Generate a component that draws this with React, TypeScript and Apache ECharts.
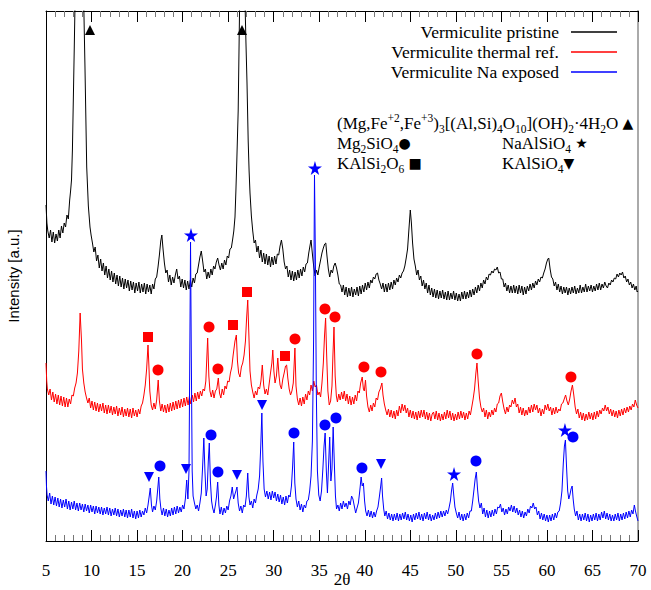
import React, { useEffect, useRef } from 'react';
import * as echarts from 'echarts';

// 2θ (deg) vs intensity (a.u.)
const pristine: [number, number][] = [
[5.0,336],[5.1,318],[5.2,310],[5.35,303],[5.5,311],[5.65,299],[5.8,309],[5.95,298],[6.1,307],[6.25,300],[6.4,311],[6.55,303],[6.7,315],[6.85,308],[7.0,318],[7.15,314],[7.3,326],[7.45,322],[7.6,341],[7.7,350],[7.8,361],[7.9,391],[8.0,441],[8.1,491],[8.2,545],[8.4,650],[8.7,750],[9.0,650],[9.15,535],[9.28,474],[9.47,374],[9.65,335],[9.83,314],[9.95,306],[10.1,298],[10.25,289],[10.4,294],[10.55,280],[10.7,286],[10.85,273],[11.0,282],[11.15,270],[11.3,278],[11.45,266],[11.6,275],[11.75,263],[11.9,272],[12.05,261],[12.2,270],[12.35,259],[12.5,268],[12.65,257],[12.8,266],[12.95,255],[13.1,265],[13.25,254],[13.4,263],[13.55,252],[13.7,262],[13.85,253],[14.0,261],[14.15,250],[14.3,260],[14.45,251],[14.6,259],[14.75,248],[14.9,258],[15.05,250],[15.2,259],[15.35,248],[15.5,257],[15.65,249],[15.8,258],[15.95,247],[16.1,257],[16.25,249],[16.4,256],[16.55,247],[16.7,257],[16.85,252],[17.0,262],[17.15,264],[17.3,274],[17.45,286],[17.6,300],[17.72,306],[17.85,292],[18.0,278],[18.15,268],[18.3,271],[18.45,259],[18.6,266],[18.75,256],[18.9,264],[19.05,258],[19.2,266],[19.35,272],[19.5,262],[19.65,265],[19.8,254],[19.95,262],[20.1,253],[20.25,261],[20.4,251],[20.55,260],[20.7,252],[20.85,261],[21.0,254],[21.15,263],[21.3,258],[21.45,267],[21.6,268],[21.75,276],[21.9,284],[22.05,290],[22.2,280],[22.35,269],[22.5,272],[22.65,262],[22.8,269],[22.95,263],[23.1,272],[23.25,266],[23.4,275],[23.55,272],[23.7,279],[23.85,283],[24.0,276],[24.15,271],[24.3,278],[24.45,272],[24.6,281],[24.75,276],[24.9,285],[25.05,283],[25.2,292],[25.35,293],[25.5,302],[25.62,310],[25.75,324],[25.85,350],[25.95,380],[26.1,430],[26.25,530],[26.4,650],[26.55,760],[26.7,650],[26.85,540],[26.95,500],[27.07,458],[27.2,400],[27.3,370],[27.4,348],[27.55,325],[27.7,310],[27.85,298],[28.0,301],[28.15,289],[28.3,295],[28.45,283],[28.6,291],[28.75,279],[28.9,288],[29.05,277],[29.2,287],[29.35,276],[29.5,285],[29.65,274],[29.8,284],[29.95,276],[30.1,285],[30.25,277],[30.4,287],[30.55,286],[30.7,295],[30.85,301],[31.0,292],[31.15,279],[31.3,272],[31.45,275],[31.6,264],[31.75,271],[31.9,261],[32.05,270],[32.2,260],[32.35,269],[32.5,261],[32.65,271],[32.8,263],[32.95,272],[33.1,265],[33.25,274],[33.4,269],[33.55,277],[33.7,278],[33.85,288],[34.0,296],[34.1,301],[34.25,287],[34.4,274],[34.55,265],[34.7,271],[34.85,266],[35.0,274],[35.15,281],[35.3,288],[35.45,293],[35.6,297],[35.72,298],[35.85,285],[36.0,272],[36.15,264],[36.3,271],[36.45,268],[36.6,275],[36.75,278],[36.9,273],[37.05,266],[37.2,257],[37.35,256],[37.5,249],[37.65,256],[37.8,246],[37.95,254],[38.1,244],[38.25,253],[38.4,245],[38.55,254],[38.7,244],[38.85,252],[39.0,246],[39.15,254],[39.3,245],[39.45,255],[39.6,247],[39.75,256],[39.9,249],[40.05,258],[40.2,251],[40.35,259],[40.5,253],[40.65,261],[40.8,258],[40.95,264],[41.1,262],[41.25,267],[41.4,268],[41.55,261],[41.7,257],[41.85,252],[42.0,258],[42.15,249],[42.3,257],[42.45,249],[42.6,258],[42.75,251],[42.9,259],[43.05,252],[43.2,261],[43.35,256],[43.5,263],[43.65,259],[43.8,266],[43.95,263],[44.1,268],[44.25,270],[44.4,275],[44.55,283],[44.7,292],[44.85,312],[45.0,331],[45.12,318],[45.25,298],[45.4,282],[45.55,275],[45.7,266],[45.85,271],[46.0,261],[46.15,265],[46.3,255],[46.45,261],[46.6,252],[46.75,258],[46.9,248],[47.05,256],[47.2,246],[47.35,253],[47.5,244],[47.65,252],[47.8,243],[47.95,251],[48.1,242],[48.25,250],[48.4,243],[48.55,251],[48.7,242],[48.85,249],[49.0,241],[49.15,250],[49.3,241],[49.45,248],[49.6,242],[49.75,250],[49.9,241],[50.05,248],[50.2,240],[50.35,247],[50.5,240],[50.65,249],[50.8,242],[50.95,250],[51.1,242],[51.25,249],[51.4,243],[51.55,251],[51.7,244],[51.85,252],[52.0,246],[52.15,254],[52.3,248],[52.45,256],[52.6,250],[52.75,258],[52.9,253],[53.05,261],[53.2,257],[53.35,264],[53.5,261],[53.65,267],[53.8,266],[53.95,270],[54.1,268],[54.25,272],[54.4,271],[54.55,274],[54.7,268],[54.85,269],[55.0,262],[55.15,262],[55.3,254],[55.45,258],[55.6,250],[55.75,256],[55.9,248],[56.05,255],[56.2,248],[56.35,256],[56.5,248],[56.65,255],[56.8,247],[56.95,256],[57.1,248],[57.25,255],[57.4,246],[57.55,254],[57.7,247],[57.85,255],[58.0,250],[58.15,257],[58.3,251],[58.45,258],[58.6,253],[58.75,260],[58.9,256],[59.05,262],[59.2,259],[59.35,264],[59.5,263],[59.65,268],[59.8,272],[59.95,278],[60.1,282],[60.2,283],[60.35,272],[60.5,264],[60.65,262],[60.8,255],[60.95,259],[61.1,251],[61.25,257],[61.4,249],[61.55,255],[61.7,247],[61.85,254],[62.0,248],[62.15,254],[62.3,246],[62.45,253],[62.6,247],[62.75,254],[62.9,248],[63.05,255],[63.2,247],[63.35,253],[63.5,248],[63.65,256],[63.8,248],[63.95,254],[64.1,249],[64.25,257],[64.4,249],[64.55,255],[64.7,250],[64.85,256],[65.0,249],[65.15,255],[65.3,250],[65.45,257],[65.6,251],[65.75,258],[65.9,251],[66.05,257],[66.2,253],[66.35,259],[66.5,255],[66.65,253],[66.8,258],[66.95,256],[67.1,261],[67.25,259],[67.4,263],[67.55,262],[67.7,267],[67.85,264],[68.0,268],[68.15,266],[68.3,269],[68.45,263],[68.6,265],[68.75,259],[68.9,262],[69.05,256],[69.2,259],[69.35,253],[69.5,257],[69.65,251],[69.8,255],[69.9,249],[70.0,250],
];

const thermal: [number, number][] = [
[5.0,178],[5.08,160],[5.15,152],[5.3,146],[5.45,152],[5.6,141],[5.75,149],[5.9,139],[6.05,147],[6.2,137],[6.35,146],[6.5,136],[6.65,145],[6.8,135],[6.95,144],[7.1,134],[7.25,143],[7.4,134],[7.55,142],[7.7,137],[7.85,146],[8.0,145],[8.15,153],[8.3,158],[8.45,168],[8.6,190],[8.75,228],[8.9,200],[9.0,172],[9.15,158],[9.3,149],[9.45,143],[9.6,138],[9.75,143],[9.9,133],[10.05,140],[10.2,131],[10.35,139],[10.5,130],[10.65,138],[10.8,129],[10.95,137],[11.1,130],[11.25,138],[11.4,128],[11.55,136],[11.7,127],[11.85,136],[12.0,128],[12.15,135],[12.3,126],[12.45,134],[12.6,127],[12.75,135],[12.9,125],[13.05,133],[13.2,126],[13.35,134],[13.5,124],[13.65,132],[13.8,125],[13.95,133],[14.1,124],[14.25,132],[14.4,123],[14.55,133],[14.7,125],[14.85,131],[15.0,124],[15.15,132],[15.3,127],[15.45,135],[15.6,138],[15.75,146],[15.9,156],[16.05,172],[16.2,196],[16.3,175],[16.4,150],[16.55,136],[16.7,131],[16.85,138],[17.0,132],[17.15,141],[17.32,161],[17.45,140],[17.6,130],[17.75,137],[17.9,129],[18.05,136],[18.2,128],[18.35,137],[18.5,129],[18.65,138],[18.8,130],[18.95,139],[19.1,131],[19.25,140],[19.4,132],[19.55,141],[19.7,133],[19.85,142],[20.0,134],[20.15,143],[20.3,135],[20.45,144],[20.6,136],[20.75,145],[20.9,137],[21.05,146],[21.2,139],[21.35,148],[21.5,140],[21.65,149],[21.8,142],[21.95,150],[22.1,145],[22.25,152],[22.4,150],[22.55,160],[22.75,203],[22.88,165],[23.0,150],[23.15,144],[23.3,151],[23.45,143],[23.6,150],[23.75,152],[23.92,163],[24.05,148],[24.2,143],[24.35,152],[24.5,146],[24.65,155],[24.8,152],[24.95,160],[25.1,159],[25.25,168],[25.4,174],[25.55,186],[25.75,200],[25.9,206],[26.02,180],[26.15,168],[26.3,164],[26.45,174],[26.6,178],[26.75,186],[26.9,200],[27.02,222],[27.15,241],[27.28,205],[27.4,170],[27.55,156],[27.7,149],[27.85,143],[28.0,150],[28.15,146],[28.3,154],[28.45,152],[28.6,160],[28.75,176],[28.9,156],[29.05,147],[29.2,152],[29.35,146],[29.5,157],[29.65,168],[29.8,178],[29.9,191],[30.02,170],[30.15,158],[30.3,165],[30.45,183],[30.58,166],[30.7,156],[30.85,152],[31.0,162],[31.15,168],[31.3,175],[31.42,176],[31.55,163],[31.7,152],[31.85,146],[32.0,150],[32.15,158],[32.33,193],[32.45,155],[32.6,142],[32.75,136],[32.9,143],[33.05,135],[33.2,144],[33.35,137],[33.5,147],[33.65,141],[33.8,150],[33.95,146],[34.1,156],[34.25,150],[34.4,160],[34.55,154],[34.7,156],[34.85,146],[35.0,149],[35.15,144],[35.3,158],[35.45,178],[35.58,205],[35.7,223],[35.82,185],[35.95,150],[36.1,136],[36.25,140],[36.4,155],[36.5,185],[36.62,214],[36.75,165],[36.88,145],[37.0,139],[37.15,147],[37.3,141],[37.45,149],[37.6,142],[37.75,150],[37.9,140],[38.05,147],[38.2,137],[38.35,145],[38.5,136],[38.65,144],[38.8,137],[38.95,146],[39.1,140],[39.25,150],[39.4,148],[39.55,158],[39.72,164],[39.85,152],[39.95,150],[40.08,161],[40.2,145],[40.35,134],[40.5,129],[40.65,136],[40.8,130],[40.95,138],[41.1,134],[41.25,143],[41.4,141],[41.55,149],[41.7,152],[41.88,158],[42.0,146],[42.15,137],[42.3,131],[42.45,126],[42.6,132],[42.75,124],[42.9,131],[43.05,123],[43.2,130],[43.35,122],[43.5,131],[43.65,125],[43.8,135],[43.95,128],[44.1,137],[44.25,130],[44.4,136],[44.55,128],[44.7,133],[44.85,124],[45.0,131],[45.15,123],[45.3,130],[45.45,122],[45.6,129],[45.75,121],[45.9,130],[46.05,123],[46.2,131],[46.35,124],[46.5,131],[46.65,122],[46.8,129],[46.95,121],[47.1,128],[47.25,120],[47.4,127],[47.55,129],[47.7,122],[47.85,130],[48.0,121],[48.15,128],[48.3,120],[48.45,127],[48.6,121],[48.75,129],[48.9,122],[49.05,131],[49.2,123],[49.35,130],[49.5,121],[49.65,128],[49.8,120],[49.95,127],[50.1,121],[50.25,129],[50.4,122],[50.55,130],[50.7,123],[50.85,129],[51.0,121],[51.15,128],[51.3,122],[51.45,130],[51.6,126],[51.75,134],[51.9,142],[52.05,152],[52.2,168],[52.32,178],[52.45,160],[52.6,143],[52.75,134],[52.9,129],[53.05,133],[53.2,124],[53.35,131],[53.5,122],[53.65,129],[53.8,124],[53.95,131],[54.1,126],[54.25,133],[54.4,129],[54.55,137],[54.7,138],[54.85,145],[55.0,148],[55.15,139],[55.3,132],[55.45,127],[55.6,134],[55.75,129],[55.9,136],[56.05,134],[56.2,141],[56.35,137],[56.5,143],[56.65,134],[56.8,137],[56.95,128],[57.1,134],[57.25,126],[57.4,133],[57.55,125],[57.7,131],[57.85,126],[58.0,134],[58.15,128],[58.3,136],[58.45,129],[58.6,137],[58.75,131],[58.9,136],[59.05,128],[59.2,133],[59.35,125],[59.5,132],[59.65,127],[59.8,136],[59.95,131],[60.1,137],[60.25,130],[60.4,134],[60.55,126],[60.7,133],[60.85,127],[61.0,134],[61.15,128],[61.3,132],[61.45,130],[61.6,137],[61.75,138],[61.9,142],[62.05,146],[62.2,140],[62.35,136],[62.5,142],[62.65,150],[62.8,156],[62.95,146],[63.1,134],[63.25,127],[63.4,132],[63.55,123],[63.7,129],[63.85,121],[64.0,128],[64.15,120],[64.3,127],[64.45,121],[64.6,129],[64.75,122],[64.9,128],[65.05,121],[65.2,129],[65.35,122],[65.5,130],[65.65,124],[65.8,131],[65.95,127],[66.1,133],[66.25,130],[66.4,136],[66.55,130],[66.7,134],[66.85,127],[67.0,132],[67.15,125],[67.3,131],[67.45,124],[67.6,130],[67.75,123],[67.9,131],[68.05,125],[68.2,132],[68.35,126],[68.5,133],[68.65,128],[68.8,134],[68.95,129],[69.1,135],[69.25,131],[69.4,137],[69.55,134],[69.7,141],[69.85,136],[70.0,133],
];

const naExposed: [number, number][] = [
[5.0,70],[5.05,55],[5.12,46],[5.25,40],[5.4,48],[5.55,37],[5.7,45],[5.85,36],[6.0,44],[6.15,35],[6.3,43],[6.45,34],[6.6,42],[6.75,33],[6.9,41],[7.05,34],[7.2,42],[7.35,32],[7.5,40],[7.65,31],[7.8,39],[7.95,32],[8.1,40],[8.25,31],[8.4,38],[8.55,30],[8.7,38],[8.85,31],[9.0,37],[9.15,29],[9.3,37],[9.45,30],[9.6,36],[9.75,28],[9.9,36],[10.05,29],[10.2,35],[10.35,27],[10.5,35],[10.65,28],[10.8,34],[10.95,27],[11.1,34],[11.25,26],[11.4,33],[11.55,27],[11.7,34],[11.85,26],[12.0,33],[12.15,25],[12.3,32],[12.45,26],[12.6,33],[12.75,25],[12.9,32],[13.05,24],[13.2,31],[13.35,25],[13.5,32],[13.65,24],[13.8,31],[13.95,23],[14.1,31],[14.25,24],[14.4,32],[14.55,23],[14.7,30],[14.85,22],[15.0,30],[15.15,23],[15.3,31],[15.45,24],[15.6,30],[15.75,26],[15.9,33],[16.05,28],[16.2,36],[16.32,44],[16.45,53],[16.58,36],[16.7,29],[16.85,35],[17.0,31],[17.15,40],[17.25,50],[17.38,64],[17.5,42],[17.62,32],[17.75,26],[17.9,33],[18.05,25],[18.2,32],[18.35,24],[18.5,31],[18.65,25],[18.8,33],[18.95,26],[19.1,34],[19.25,27],[19.4,35],[19.55,28],[19.7,34],[19.85,29],[20.0,36],[20.15,32],[20.3,42],[20.45,61],[20.58,42],[20.7,70],[20.8,200],[20.87,299],[20.95,190],[21.05,70],[21.15,45],[21.3,38],[21.45,32],[21.6,36],[21.75,30],[21.9,38],[22.05,48],[22.2,75],[22.33,103],[22.45,70],[22.58,45],[22.7,52],[22.82,80],[22.93,98],[23.05,60],[23.18,40],[23.3,33],[23.45,28],[23.6,36],[23.72,44],[23.85,59],[23.98,36],[24.1,27],[24.25,34],[24.4,26],[24.55,33],[24.7,28],[24.85,35],[25.0,31],[25.15,40],[25.3,45],[25.45,54],[25.6,42],[25.72,46],[25.85,50],[25.97,54],[26.1,38],[26.25,30],[26.4,35],[26.55,28],[26.7,36],[26.85,34],[27.0,45],[27.15,68],[27.28,44],[27.4,36],[27.55,40],[27.7,33],[27.85,42],[28.0,38],[28.15,46],[28.3,52],[28.45,65],[28.58,95],[28.7,128],[28.82,80],[28.95,52],[29.1,44],[29.25,50],[29.4,42],[29.55,49],[29.7,41],[29.85,50],[30.0,43],[30.15,49],[30.3,40],[30.45,47],[30.6,39],[30.75,46],[30.9,37],[31.05,44],[31.2,36],[31.35,45],[31.5,38],[31.65,46],[31.8,44],[31.95,55],[32.08,75],[32.2,99],[32.32,58],[32.45,42],[32.6,34],[32.75,40],[32.9,31],[33.05,37],[33.2,29],[33.35,36],[33.5,33],[33.65,40],[33.8,41],[33.95,50],[34.1,65],[34.25,100],[34.38,200],[34.48,366],[34.58,280],[34.68,150],[34.8,70],[34.95,46],[35.1,40],[35.25,50],[35.4,72],[35.53,95],[35.65,108],[35.78,70],[35.9,48],[36.02,75],[36.15,104],[36.28,60],[36.4,72],[36.53,114],[36.65,80],[36.78,45],[36.9,32],[37.05,36],[37.2,30],[37.35,38],[37.5,32],[37.65,40],[37.8,34],[37.95,38],[38.1,32],[38.25,40],[38.4,36],[38.55,45],[38.7,42],[38.85,35],[39.0,28],[39.15,33],[39.3,38],[39.45,50],[39.6,64],[39.72,55],[39.85,58],[39.98,40],[40.1,30],[40.25,25],[40.4,31],[40.55,24],[40.7,30],[40.85,23],[41.0,29],[41.15,24],[41.3,30],[41.45,34],[41.6,44],[41.75,55],[41.85,63],[41.95,45],[42.08,32],[42.2,25],[42.35,30],[42.5,22],[42.65,28],[42.8,21],[42.95,27],[43.1,20],[43.25,27],[43.4,21],[43.55,28],[43.7,20],[43.85,27],[44.0,21],[44.15,28],[44.3,22],[44.45,29],[44.6,21],[44.75,27],[44.9,20],[45.05,26],[45.2,19],[45.35,27],[45.5,21],[45.65,28],[45.8,22],[45.95,29],[46.1,21],[46.25,27],[46.4,20],[46.55,28],[46.7,22],[46.85,29],[47.0,21],[47.15,27],[47.3,20],[47.45,26],[47.6,21],[47.75,28],[47.9,22],[48.05,29],[48.2,23],[48.35,30],[48.5,24],[48.65,30],[48.8,25],[48.95,31],[49.1,27],[49.25,33],[49.4,40],[49.52,50],[49.65,58],[49.78,45],[49.9,34],[50.05,28],[50.2,23],[50.35,29],[50.5,21],[50.65,27],[50.8,20],[50.95,27],[51.1,21],[51.25,28],[51.4,23],[51.55,30],[51.7,30],[51.85,40],[52.0,52],[52.12,62],[52.25,69],[52.38,52],[52.5,40],[52.65,33],[52.8,38],[52.95,27],[53.1,33],[53.25,24],[53.4,31],[53.55,23],[53.7,30],[53.85,24],[54.0,31],[54.15,25],[54.3,32],[54.45,27],[54.6,34],[54.75,33],[54.9,37],[55.05,29],[55.2,33],[55.35,26],[55.5,32],[55.65,27],[55.8,34],[55.95,30],[56.1,36],[56.25,29],[56.4,35],[56.55,28],[56.7,33],[56.85,26],[57.0,31],[57.15,24],[57.3,30],[57.45,23],[57.6,29],[57.75,25],[57.9,32],[58.05,28],[58.2,35],[58.35,33],[58.5,38],[58.65,32],[58.8,34],[58.95,26],[59.1,30],[59.25,22],[59.4,28],[59.55,21],[59.7,27],[59.85,20],[60.0,26],[60.15,19],[60.3,26],[60.45,20],[60.6,27],[60.75,21],[60.9,28],[61.05,23],[61.2,29],[61.35,30],[61.5,38],[61.65,50],[61.8,78],[61.92,95],[62.03,101],[62.15,75],[62.28,50],[62.4,42],[62.52,46],[62.65,52],[62.77,55],[62.88,42],[63.0,32],[63.15,25],[63.3,30],[63.45,21],[63.6,27],[63.75,20],[63.9,27],[64.05,21],[64.2,28],[64.35,20],[64.5,27],[64.65,19],[64.8,26],[64.95,20],[65.1,27],[65.25,21],[65.4,28],[65.55,20],[65.7,27],[65.85,21],[66.0,29],[66.15,23],[66.3,30],[66.45,22],[66.6,28],[66.75,21],[66.9,27],[67.05,20],[67.2,26],[67.35,20],[67.5,27],[67.65,21],[67.8,28],[67.95,20],[68.1,27],[68.25,21],[68.4,28],[68.55,22],[68.7,29],[68.85,23],[69.0,30],[69.15,24],[69.3,31],[69.45,27],[69.6,36],[69.72,30],[69.85,25],[70.0,20],
];

// phase markers [2θ, intensity]
const blackTriangles: [number, number][] = [[9.83, 511], [26.52, 511]];
const redSquares: [number, number][] = [[16.2, 204], [25.53, 216], [27.07, 249], [31.24, 185]];
const redCircles: [number, number][] = [
  [17.3, 171], [22.9, 214], [23.88, 172], [32.34, 202], [35.63, 232], [36.73, 224], [39.91, 174], [41.78, 169],
  [52.32, 187], [62.64, 164],
];
const blueCircles: [number, number][] = [
  [17.52, 75], [23.12, 106], [23.88, 69], [32.23, 108], [35.63, 116], [36.84, 123], [39.69, 73], [52.21, 80],
  [62.86, 104],
];
const blueDownTriangles: [number, number][] = [[16.31, 64], [20.37, 72], [25.97, 66], [28.72, 136], [41.78, 77]];
const blueStars: [number, number][] = [[20.92, 306], [34.53, 373], [49.8, 67], [61.98, 111]];

const legendNames = ['Vermiculite pristine', 'Vermiculite thermal ref.', 'Vermiculite Na exposed'];
const seriesColors = ['#000000', '#ff0000', '#0000ff'];

const STAR = 'path://M50,0 L61,35 L98,35 L68,57 L79,91 L50,70 L21,91 L32,57 L2,35 L39,35 Z';
const SERIF = 'Liberation Serif';

export default function App() {
  const ref = useRef<HTMLDivElement>(null);
  useEffect(() => {
    const chart = echarts.init(ref.current!, null, { renderer: 'svg' });
    const rich = {
      n: { fontFamily: SERIF, fontSize: 17, lineHeight: 19, fill: '#000' },
      sub: { fontFamily: SERIF, fontSize: 11.5, height: 8, verticalAlign: 'bottom', fill: '#000' },
      sup: { fontFamily: SERIF, fontSize: 11.5, height: 8, verticalAlign: 'top', fill: '#000' },
      sym: { fontFamily: 'DejaVu Sans', fontSize: 14, lineHeight: 19, fill: '#000' },
    };
    const richText = (x: number, y: number, text: string) => ({
      type: 'text',
      x,
      y,
      style: { text, rich, verticalAlign: 'middle', align: 'left' },
    });
    const scatter = (data: [number, number][], symbol: string, color: string, size: number, rotate = 0) => ({
      type: 'scatter',
      data,
      symbol,
      symbolSize: size,
      symbolRotate: rotate,
      itemStyle: { color, opacity: 1 },
      z: 5,
      silent: true,
    });
    const commonX = {
      type: 'value',
      min: 5,
      max: 70,
      interval: 5,
      splitLine: { show: false },
      axisLine: { show: true, onZero: false, lineStyle: { color: '#000', width: 1 } },
      axisTick: { show: true, inside: true, length: 11, lineStyle: { color: '#000' } },
      minorTick: { show: true, splitNumber: 5, length: 6, lineStyle: { color: '#777' } },
    };
    chart.setOption({
      animation: false,
      backgroundColor: '#fff',
      grid: { left: 46, right: 13, top: 11, bottom: 49, containLabel: false, outerBoundsMode: 'none' },
      xAxis: [
        {
          ...commonX,
          position: 'bottom',
          axisLabel: { show: true, margin: 21, fontFamily: SERIF, fontSize: 17, color: '#000' },
          name: '2θ',
          nameLocation: 'middle',
          nameGap: 30,
          nameMoveOverlap: false,
          nameTextStyle: { fontFamily: SERIF, fontSize: 17, lineHeight: 17, color: '#000' },
        },
        {
          ...commonX,
          position: 'top',
          axisLabel: { show: false },
        },
      ],
      yAxis: [
        {
          type: 'value',
          min: 0,
          max: 530,
          position: 'left',
          splitLine: { show: false },
          axisLine: { show: true, onZero: false, lineStyle: { color: '#000', width: 1 } },
          axisTick: { show: false },
          axisLabel: { show: false },
          name: 'Intensity [a.u.]',
          nameLocation: 'middle',
          nameRotate: 90,
          nameGap: 25,
          nameMoveOverlap: false,
          nameTextStyle: { fontFamily: 'Liberation Sans', fontSize: 15, color: '#000' },
        },
        {
          type: 'value',
          min: 0,
          max: 530,
          position: 'right',
          splitLine: { show: false },
          axisLine: { show: true, onZero: false, lineStyle: { color: '#aaaaaa', width: 2 } },
          axisTick: { show: false },
          axisLabel: { show: false },
        },
      ],
      series: [
        { type: 'line', name: legendNames[0], data: pristine, showSymbol: false, lineStyle: { color: seriesColors[0], width: 1 }, z: 2, silent: true },
        { type: 'line', name: legendNames[1], data: thermal, showSymbol: false, lineStyle: { color: seriesColors[1], width: 1 }, z: 3, silent: true },
        { type: 'line', name: legendNames[2], data: naExposed, showSymbol: false, lineStyle: { color: seriesColors[2], width: 1 }, z: 4, silent: true },
        scatter(blackTriangles, 'triangle', '#000', 10),
        scatter(redSquares, 'rect', '#ff0000', 10),
        scatter(redCircles, 'circle', '#ff0000', 11),
        scatter(blueCircles, 'circle', '#0000ff', 11),
        scatter(blueDownTriangles, 'triangle', '#0000ff', 10, 180),
        scatter(blueStars, STAR, '#0000ff', 14),
      ],
      graphic: [
        ...legendNames.map((name, i) => ({
          type: 'text',
          x: 559,
          y: 32 + i * 20,
          style: { text: name, fontFamily: SERIF, fontSize: 17.5, fill: '#000', align: 'right', verticalAlign: 'middle' },
        })),
        ...legendNames.map((_, i) => ({
          type: 'line',
          shape: { x1: 571, y1: 32 + i * 20, x2: 617, y2: 32 + i * 20 },
          style: { stroke: seriesColors[i], lineWidth: 1.5 },
        })),
        richText(337, 123, '{n|(Mg,Fe}{sup|+2}{n|,Fe}{sup|+3}{n|)}{sub|3}{n|[(Al,Si)}{sub|4}{n|O}{sub|10}{n|](OH)}{sub|2}{n|·4H}{sub|2}{n|O }{sym|▲}'),
        richText(337, 143, '{n|Mg}{sub|2}{n|SiO}{sub|4}{sym|●}'),
        richText(502, 143, '{n|NaAlSiO}{sub|4}{n| }{sym|★}'),
        richText(337, 163, '{n|KAlSi}{sub|2}{n|O}{sub|6}{n| }{sym|■}'),
        richText(502, 163, '{n|KAlSiO}{sub|4}{sym|▼}'),
      ],
    });
    return () => chart.dispose();
  }, []);
  return <div ref={ref} style={{ position: 'absolute', left: 0, top: 0, width: 651, height: 590 }} />;
}
